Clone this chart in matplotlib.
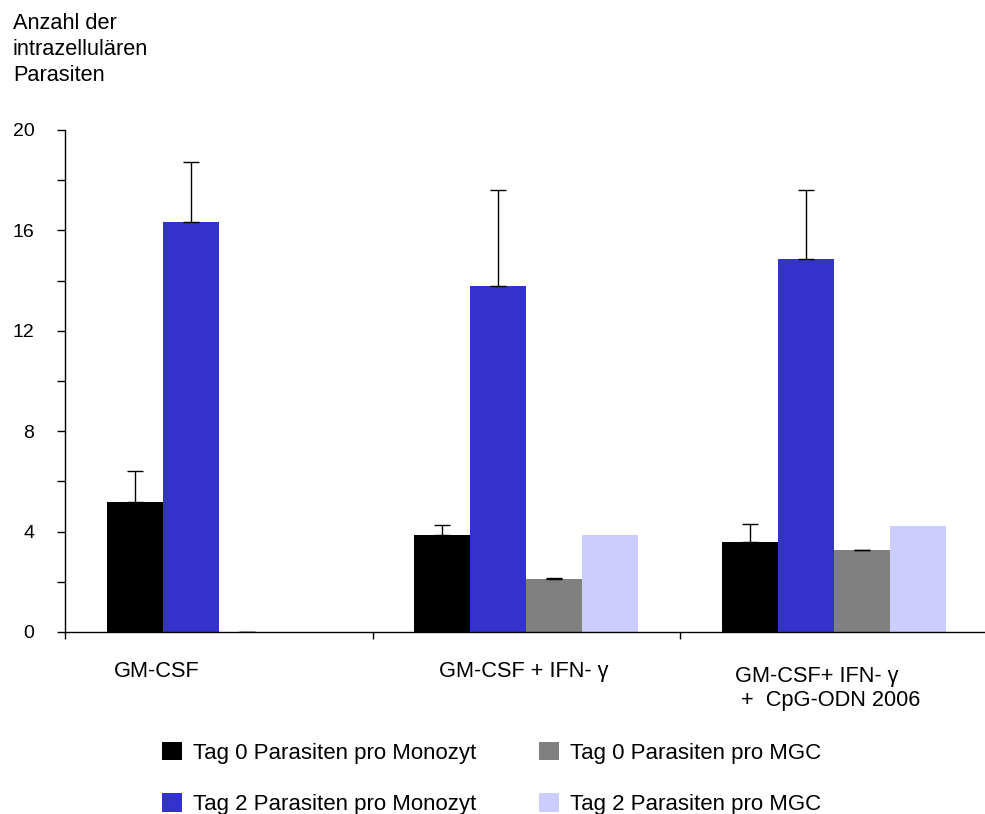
import matplotlib
matplotlib.use("Agg")
import matplotlib.pyplot as plt
import numpy as np
from matplotlib.patches import Patch

plt.rcParams["font.family"] = ["Liberation Sans", "DejaVu Sans"]

GROUPS = ["GM-CSF", "GM-CSF + IFN- γ", "GM-CSF+ IFN- γ\n +  CpG-ODN 2006"]
SERIES = ["Tag 0 Parasiten pro Monozyt", "Tag 2 Parasiten pro Monozyt",
          "Tag 0 Parasiten pro MGC", "Tag 2 Parasiten pro MGC"]
COLORS = ["#000000", "#3333cc", "#808080", "#ccccff"]

T0_MONO = [5.19, 3.86, 3.59]
T0_MONO_ERR = [1.21, 0.40, 0.71]
T2_MONO = [16.34, 13.78, 14.85]
T2_MONO_ERR = [2.39, 3.83, 2.76]
T0_MGC = [0.0, 2.10, 3.25]
T0_MGC_ERR = [0.0, 0.04, 0.03]
T2_MGC = [0.0, 3.86, 4.22]
T2_MGC_ERR = [np.nan, np.nan, np.nan]

VALUES = [T0_MONO, T2_MONO, T0_MGC, T2_MGC]
ERRORS = [T0_MONO_ERR, T2_MONO_ERR, T0_MGC_ERR, T2_MGC_ERR]

FS = 15.7
fig = plt.figure(figsize=(9.85, 8.14), dpi=100)
ax = fig.add_axes([65 / 985, 1 - 632 / 814, 922.5 / 985, 502 / 814])

w = 0.182
x = np.arange(len(GROUPS)) + 0.5
for i, (vals, errs, c) in enumerate(zip(VALUES, ERRORS, COLORS)):
    pos = x + (i - 1.5) * w
    ax.bar(pos, vals, width=w, color=c, linewidth=0, zorder=2)
    errs = np.asarray(errs, dtype=float)
    ok = ~np.isnan(errs)
    if ok.any():
        ax.errorbar(pos[ok], np.asarray(vals)[ok],
                    yerr=[np.zeros(ok.sum()), errs[ok]],
                    fmt="none", ecolor="black", elinewidth=1, capsize=6, capthick=1, zorder=3)

ax.set_xlim(0, 3)
ax.set_ylim(0, 20)
ax.set_yticks(np.arange(0, 21, 4))
ax.set_yticks(np.arange(2, 20, 4), minor=True)
ax.set_xticks([0, 1, 2, 3])
ax.set_xticklabels([])
ax.tick_params(axis="y", which="both", direction="out", length=6, width=1,
               labelsize=14, pad=16)
ax.tick_params(axis="x", direction="out", length=5, width=1)
for s in ["top", "right"]:
    ax.spines[s].set_visible(False)
for s in ["left", "bottom"]:
    ax.spines[s].set_linewidth(1)

# category labels under each group (baseline of the last line)
lab_x = [0.16, 1.215, 2.18]
lab_y = [-1.79, -1.79, -2.94]
for lx, ly, g in zip(lab_x, lab_y, GROUPS):
    ax.text(lx, ly, g, ha="left", va="baseline", fontsize=FS, linespacing=1.2)

fig.text(13 / 985, 1 - 81 / 814, "Anzahl der\nintrazellulären\nParasiten",
         ha="left", va="baseline", fontsize=FS, linespacing=1.3)

handles = [Patch(facecolor=c, edgecolor="none") for c in COLORS]
fig.legend(handles, SERIES, loc="upper left", bbox_to_anchor=(162 / 985, 1 - 742 / 814),
           ncol=2, frameon=False, fontsize=16, handlelength=0.9, handleheight=0.9,
           handletextpad=0.5, columnspacing=2.8, labelspacing=1.33,
           borderpad=0, borderaxespad=0)

fig.savefig("out.png", dpi=100)
